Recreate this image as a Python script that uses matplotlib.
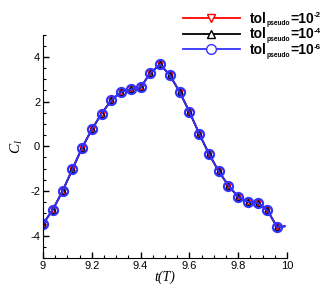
import matplotlib
matplotlib.use("Agg")
import matplotlib.pyplot as plt
from matplotlib.ticker import MultipleLocator, FuncFormatter

t = [9.00, 9.04, 9.08, 9.12, 9.16, 9.20, 9.24, 9.28, 9.32, 9.36, 9.40, 9.44, 9.48,
     9.52, 9.56, 9.60, 9.64, 9.68, 9.72, 9.76, 9.80, 9.84, 9.88, 9.92, 9.96]
cl = [-3.48, -2.84, -2.01, -1.04, -0.07, 0.75, 1.46, 2.06, 2.43, 2.54, 2.63, 3.28, 3.66,
      3.18, 2.43, 1.54, 0.57, -0.34, -1.12, -1.76, -2.27, -2.49, -2.54, -2.87, -3.63]
t_end = [9.99]
cl_end = [-3.58]

exponents = ["-2", "-4", "-6"]
colors = ["red", "black", "#3333ff"]
markers = ["v", "^", "o"]

plt.rcParams['font.family'] = ['Liberation Sans', 'DejaVu Sans']
plt.rcParams['mathtext.fontset'] = 'custom'
plt.rcParams['mathtext.cal'] = 'Liberation Serif:italic'

fig = plt.figure(figsize=(3.27, 2.91), dpi=100)
ax = fig.add_axes([0.1315, 0.1134, 0.7462, 0.768])

tl = t + t_end
cll = cl + cl_end
handles = []
for c, m in zip(colors, markers):
    ax.plot(tl, cll, color=c, lw=1.3)
    ax.plot(t, cl, ls='none', marker=m, mfc='none', mec=c, ms=6.5 if m == 'o' else 4.5,
            mew=1.6 if m == 'o' else 1.0)
    h, = ax.plot([], [], color=c, lw=1.3, marker=m, mfc='white', mec=c,
                 ms=7 if m == 'o' else 6, mew=1.0)
    handles.append(h)

ax.set_xlim(9, 10)
ax.set_ylim(-5, 5)
ax.xaxis.set_major_locator(MultipleLocator(0.2))
ax.xaxis.set_minor_locator(MultipleLocator(0.05))
ax.yaxis.set_major_locator(MultipleLocator(2))
ax.yaxis.set_minor_locator(MultipleLocator(0.5))
fmt = FuncFormatter(lambda v, p: '%g' % round(v, 2))
ax.xaxis.set_major_formatter(fmt)
ax.yaxis.set_major_formatter(fmt)
for s in ['top', 'right']:
    ax.spines[s].set_visible(False)
ax.tick_params(which='major', direction='in', length=4, width=1, labelsize=8, pad=2)
ax.tick_params(which='minor', direction='in', length=2, width=0.8)

ax.set_xlabel("t(T)", family='Liberation Serif', style='italic', fontsize=10, labelpad=0)
ax.set_ylabel(r"$\mathcal{C}_\mathcal{l}$", fontsize=11, labelpad=4)

leg = fig.legend(handles, ["tol"] * 3, loc='upper left',
                 bbox_to_anchor=(183 / 327, 0.960), frameon=False,
                 prop={'family': 'Liberation Sans', 'weight': 'bold', 'size': 10},
                 handlelength=4.1, handletextpad=0.72, labelspacing=0.13,
                 borderpad=0, borderaxespad=0)

fig.canvas.draw()
renderer = fig.canvas.get_renderer()
W = fig.dpi * fig.get_figwidth()
H = fig.dpi * fig.get_figheight()
for txt, ex in zip(leg.get_texts(), exponents):
    bb = txt.get_window_extent(renderer)
    x = bb.x1
    ybase = bb.y0 + 3.0
    pieces = [("pseudo", 4.8, 'bold', -2.5), ("=10", 10, 'bold', 0.0), (ex, 5.8, 'bold', 5.5)]
    for s, size, w, dy in pieces:
        tx = fig.text(x / W, (ybase + dy) / H, s, fontsize=size, fontweight=w,
                      family='Liberation Sans', ha='left', va='baseline')
        fig.canvas.draw()
        x = tx.get_window_extent(renderer).x1

fig.savefig("out.png", dpi=100)
